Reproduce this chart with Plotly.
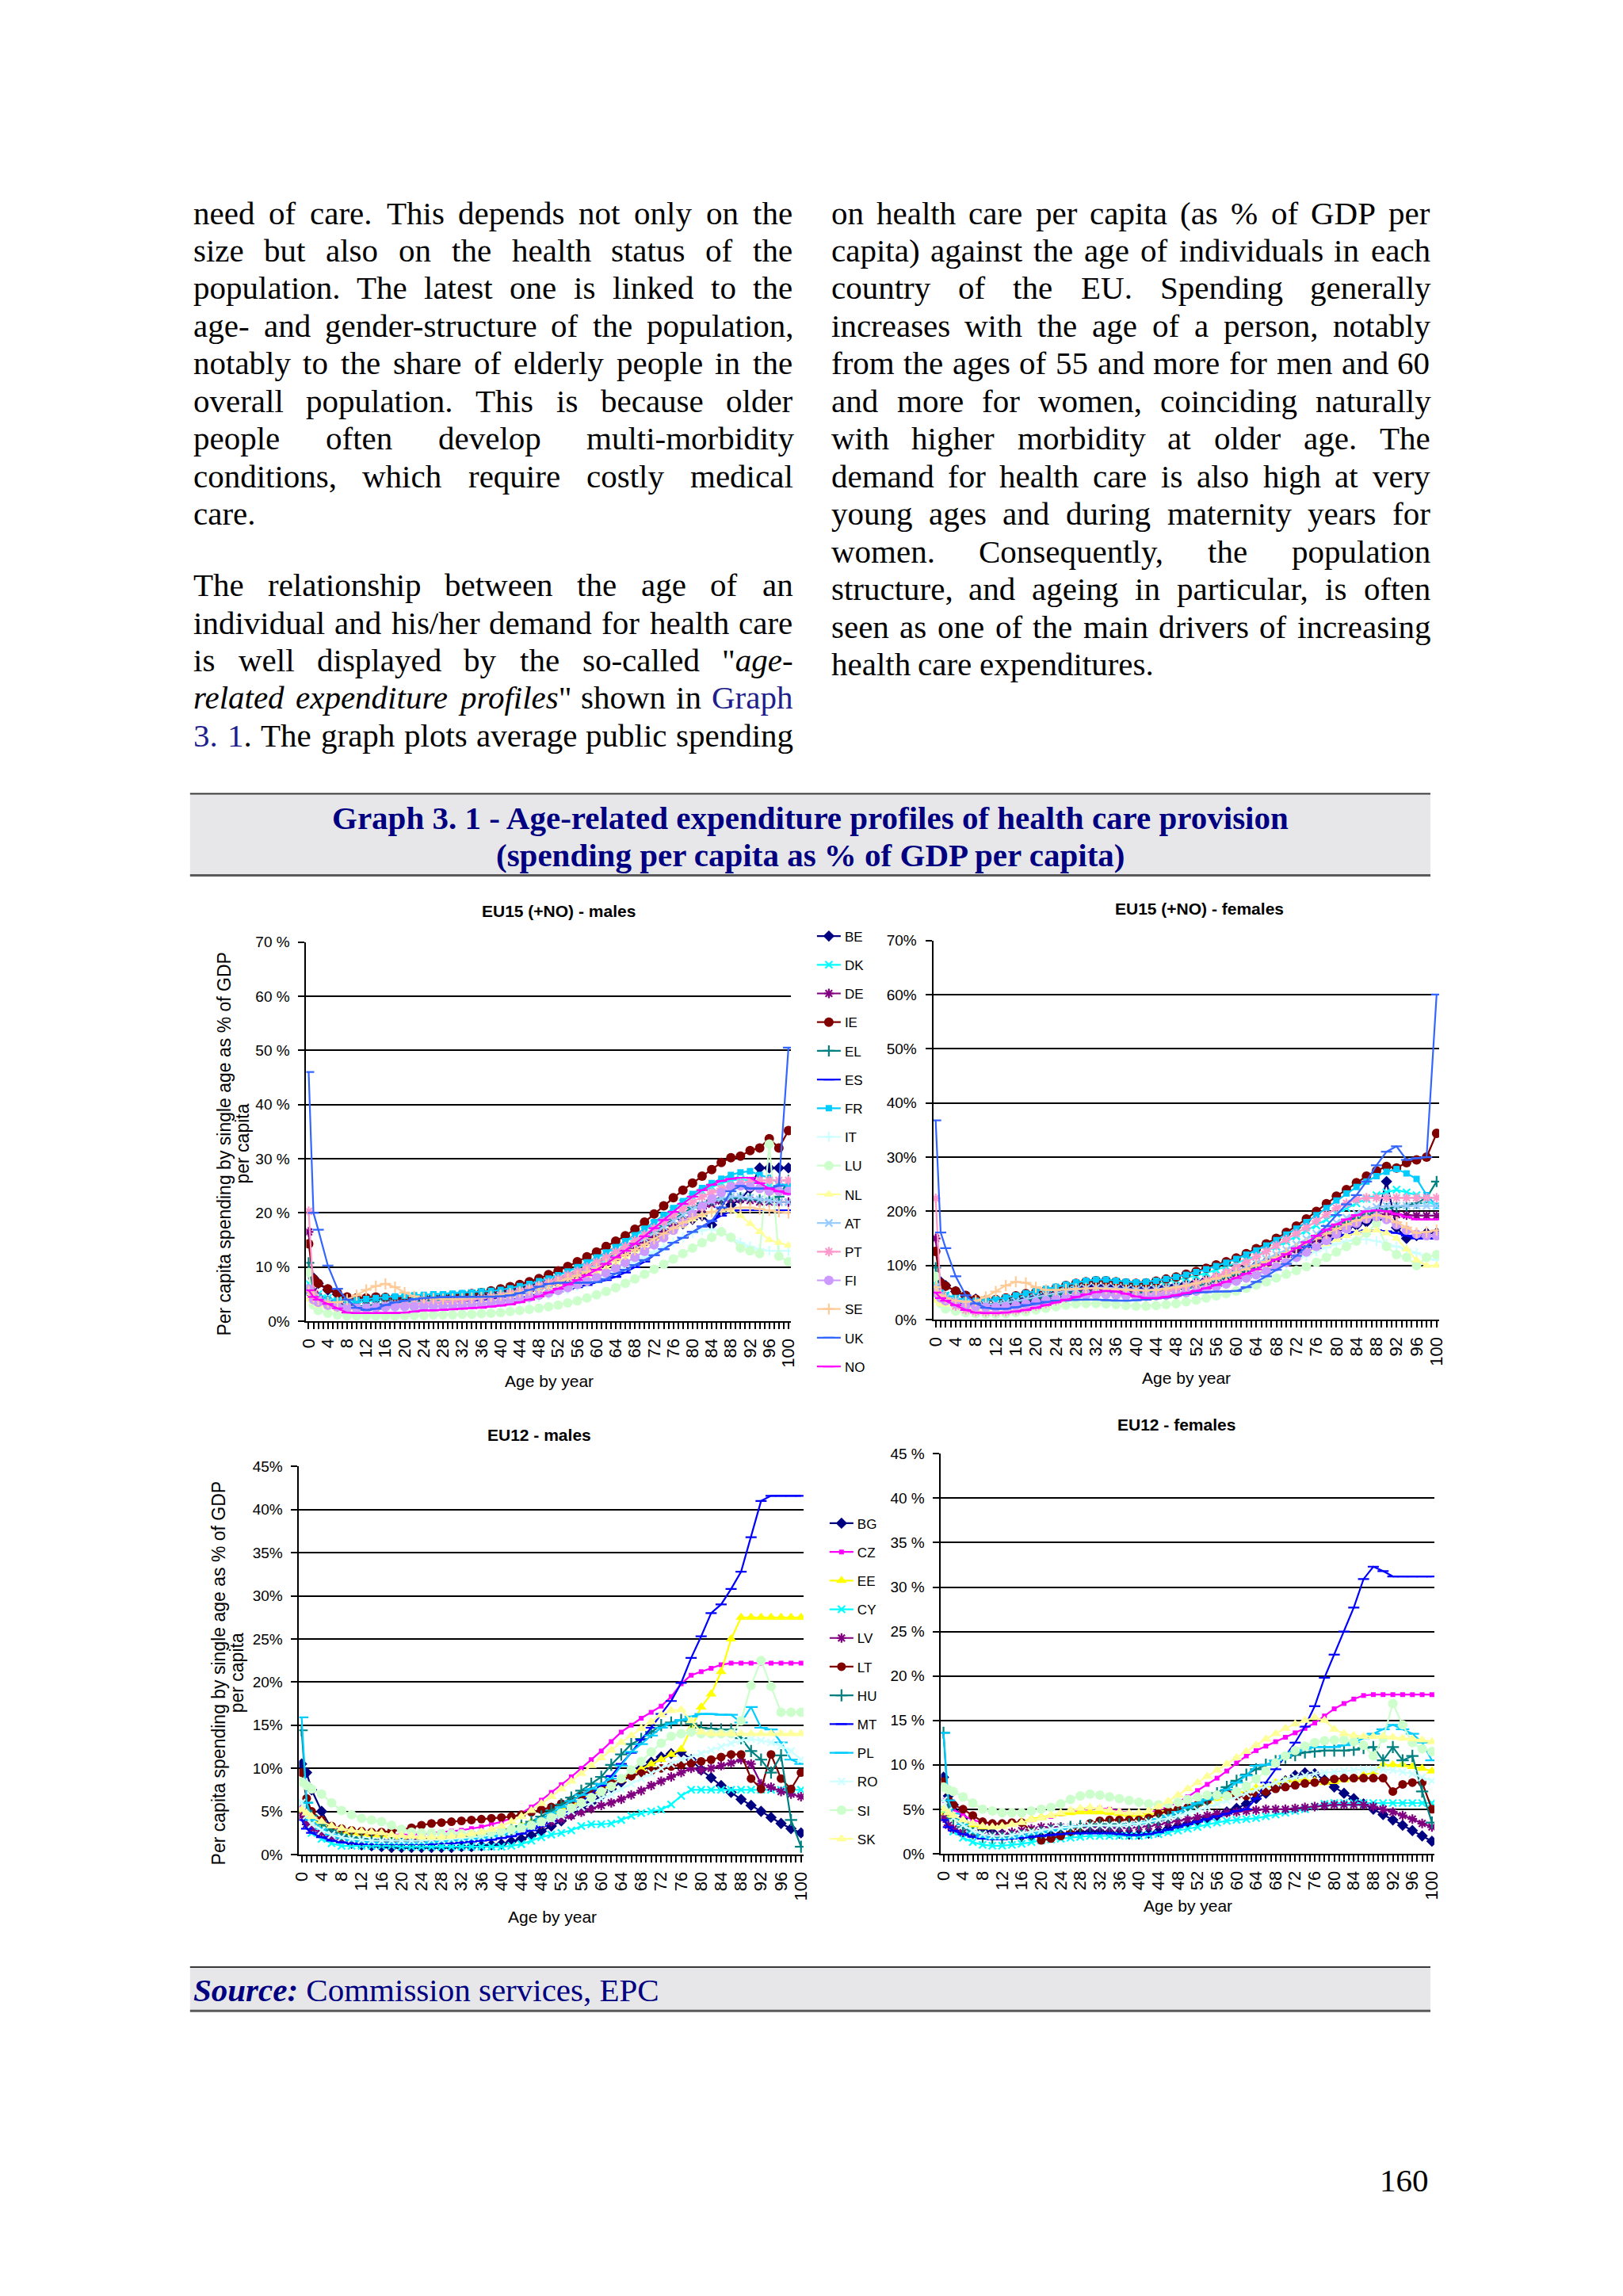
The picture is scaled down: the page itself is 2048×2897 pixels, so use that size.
import plotly.graph_objects as go

# ---------------------------------------------------------------- page geometry
OFF = 8                      # default body margin of the html page
W, H = 2016, 2850
# empirical mapping between requested page pixels and photographed pixels
SX, AX = 0.993, 7.7
SY, AY = 0.9915, 11.8


def fx(X):
    return ((X - AX) / SX - OFF) / W


def fy(Y):
    return 1 - ((Y - AY) / SY - OFF) / H


SERIF = "Liberation Serif, Times New Roman, serif"
SANS = "Liberation Sans, Arial, sans-serif"
NARROW = "Liberation Sans Narrow, Arial Narrow, Liberation Sans, Arial, sans-serif"
NAVY = "#000080"
LINK = "#1F1F8C"

# ---------------------------------------------------------------- data
AGES = [0, 1, 2] + list(range(4, 101, 2))
X_TICKS = list(range(101))
X_TICKTEXT = [str(a) if a % 4 == 0 else "" for a in X_TICKS]

EU15 = ["BE", "DK", "DE", "IE", "EL", "ES", "FR", "IT", "LU", "NL", "AT", "PT", "FI", "SE", "UK", "NO"]
EU12 = ["BG", "CZ", "EE", "CY", "LV", "LT", "HU", "MT", "PL", "RO", "SI", "SK"]

# EU15 (+NO) - males, % of GDP per capita, ages = AGES
M15_BE = [5.5, 8.0, 7.0, 5.8, 5.0, 4.3, 4.0, 4.0, 4.0, 4.0, 4.0, 4.0,
          4.0, 4.1, 4.2, 4.3, 4.4, 4.5, 4.6, 4.8, 5.0, 5.3,
          5.6, 6.0, 6.4, 6.8, 7.3, 7.8, 8.3, 8.9, 9.5, 10.2,
          11.0, 11.8, 12.6, 13.5, 14.4, 15.3, 16.2, 17.1, 18.0, 18.8,
          19.5, 17.8, 20.5, 21.5, 22.5, 24.5, 28.3, 28.3, 28.3, 28.3]
M15_DK = [7.0, 5.5, 5.0, 4.3, 3.8, 3.5, 3.5, 3.6, 3.8, 4.0, 4.2, 4.3,
          4.4, 4.5, 4.6, 4.7, 4.8, 5.0, 5.2, 5.4, 5.6, 5.9,
          6.2, 6.6, 7.0, 7.5, 8.0, 8.6, 9.2, 9.9, 10.7, 11.6,
          12.5, 13.5, 14.6, 15.7, 16.8, 18.0, 19.2, 20.5, 21.8, 23.0,
          24.0, 24.8, 25.5, 26.0, 26.2, 26.0, 25.5, 25.0, 24.5, 24.0]
M15_DE = [16.5, 5.5, 4.5, 3.8, 3.3, 3.0, 2.8, 2.8, 2.9, 3.0, 3.1, 3.1,
          3.2, 3.2, 3.3, 3.4, 3.5, 3.6, 3.8, 4.0, 4.2, 4.5,
          4.8, 5.2, 5.6, 6.1, 6.6, 7.2, 7.8, 8.5, 9.2, 10.0,
          10.8, 11.7, 12.6, 13.5, 14.5, 15.5, 16.5, 17.6, 18.7, 19.8,
          20.8, 21.6, 22.2, 22.5, 22.5, 22.3, 22.0, 22.0, 22.0, 22.0]
M15_IE = [14.3, 7.8, 7.0, 6.0, 5.2, 4.5, 4.3, 4.3, 4.5, 4.4, 4.3, 4.2,
          4.2, 4.3, 4.4, 4.5, 4.7, 4.9, 5.1, 5.3, 5.6, 6.0,
          6.4, 6.8, 7.3, 7.9, 8.6, 9.3, 10.1, 11.0, 11.9, 12.8,
          13.8, 14.8, 15.8, 17.0, 18.3, 19.8, 21.3, 22.8, 24.2, 25.5,
          26.8, 28.0, 29.3, 30.2, 30.5, 31.5, 32.0, 33.7, 32.0, 35.2]
M15_EL = [10.8, 4.5, 4.0, 3.5, 3.0, 2.8, 2.7, 2.8, 3.0, 3.2, 3.4, 3.5,
          3.6, 3.7, 3.8, 3.9, 4.0, 4.1, 4.3, 4.5, 4.7, 5.0,
          5.3, 5.7, 6.1, 6.6, 7.1, 7.7, 8.3, 9.0, 9.8, 10.6,
          11.5, 12.4, 13.4, 14.4, 15.5, 16.6, 17.7, 18.9, 20.0, 21.0,
          21.8, 22.3, 22.6, 22.8, 22.8, 22.6, 22.4, 22.5, 23.0, 26.0]
M15_ES = [5.0, 4.0, 3.5, 3.0, 2.6, 2.3, 2.2, 2.2, 2.4, 2.6, 2.8, 3.0,
          3.1, 3.2, 3.3, 3.4, 3.5, 3.6, 3.7, 3.8, 3.9, 4.0,
          4.2, 4.4, 4.6, 4.9, 5.2, 5.5, 5.9, 6.3, 6.7, 7.2,
          7.6, 8.2, 9.0, 10.0, 11.0, 12.2, 13.3, 14.5, 15.5, 16.5,
          17.5, 18.5, 19.5, 20.3, 20.5, 20.5, 20.5, 20.5, 20.5, 20.5]
M15_FR = [6.0, 5.0, 4.5, 4.0, 3.8, 3.8, 3.9, 4.1, 4.3, 4.5, 4.6, 4.7,
          4.8, 4.9, 5.0, 5.0, 5.1, 5.2, 5.3, 5.5, 5.6, 5.8,
          6.1, 6.5, 6.9, 7.4, 7.9, 8.5, 9.2, 10.0, 10.9, 11.8,
          12.7, 13.7, 14.8, 15.9, 17.1, 18.3, 19.6, 20.9, 22.2, 23.5,
          24.6, 25.5, 26.3, 27.0, 27.5, 27.7, 27.0, 26.5, 25.5, 25.0]
M15_IT = [5.0, 3.5, 3.0, 2.5, 2.2, 2.0, 1.9, 1.9, 2.0, 2.1, 2.2, 2.3,
          2.3, 2.4, 2.4, 2.5, 2.6, 2.7, 2.8, 2.9, 3.1, 3.3,
          3.5, 3.8, 4.1, 4.5, 4.9, 5.4, 5.9, 6.5, 7.1, 7.8,
          8.5, 9.3, 10.1, 11.0, 11.9, 12.8, 13.7, 14.6, 15.5, 16.3,
          16.8, 17.0, 16.5, 15.5, 14.5, 13.8, 13.3, 13.0, 13.0, 13.0]
M15_LU = [9.0, 3.0, 2.0, 1.5, 1.2, 1.0, 1.0, 1.0, 1.0, 1.0, 1.0, 1.1,
          1.1, 1.1, 1.2, 1.2, 1.2, 1.3, 1.3, 1.4, 1.5, 1.6,
          1.8, 2.0, 2.2, 2.4, 2.7, 3.0, 3.4, 3.8, 4.3, 4.9,
          5.5, 6.2, 7.0, 7.8, 8.7, 9.6, 10.5, 11.5, 12.5, 13.5,
          14.5, 15.5, 16.5, 15.5, 13.5, 13.0, 12.5, 32.7, 12.0, 11.0]
M15_NL = [4.0, 3.5, 3.0, 2.6, 2.3, 2.1, 2.0, 2.1, 2.3, 2.5, 2.7, 2.8,
          2.9, 3.0, 3.0, 3.1, 3.2, 3.3, 3.4, 3.6, 3.8, 4.0,
          4.3, 4.6, 5.0, 5.4, 5.9, 6.4, 7.0, 7.6, 8.3, 9.0,
          9.8, 10.7, 11.6, 12.5, 13.5, 14.5, 15.5, 16.6, 17.7, 18.8,
          19.6, 20.2, 20.5, 20.5, 19.5, 18.0, 16.5, 15.0, 14.5, 14.0]
M15_AT = [6.0, 4.5, 4.0, 3.5, 3.0, 2.7, 2.6, 2.6, 2.8, 3.0, 3.2, 3.3,
          3.4, 3.5, 3.5, 3.6, 3.7, 3.8, 4.0, 4.2, 4.4, 4.7,
          5.0, 5.4, 5.8, 6.3, 6.8, 7.4, 8.1, 8.8, 9.6, 10.4,
          11.3, 12.2, 13.2, 14.2, 15.3, 16.4, 17.5, 18.6, 19.7, 20.7,
          21.5, 22.2, 22.7, 23.0, 23.0, 22.8, 22.5, 22.3, 22.0, 22.0]
M15_PT = [20.3, 5.0, 3.8, 3.0, 2.6, 2.4, 2.3, 2.4, 2.6, 2.8, 3.0, 3.1,
          3.2, 3.3, 3.4, 3.5, 3.6, 3.8, 4.0, 4.2, 4.5, 4.8,
          5.2, 5.6, 6.1, 6.6, 7.2, 7.8, 8.5, 9.2, 10.0, 10.9,
          11.8, 12.8, 13.8, 14.9, 16.0, 17.2, 18.4, 19.6, 20.8, 22.0,
          23.0, 23.8, 24.5, 25.0, 25.5, 25.8, 26.0, 26.0, 26.0, 26.0]
M15_FI = [6.0, 4.0, 3.5, 3.0, 2.7, 2.5, 2.4, 2.4, 2.5, 2.6, 2.7, 2.7,
          2.7, 2.7, 2.8, 2.8, 2.9, 3.0, 3.1, 3.2, 3.4, 3.6,
          3.8, 4.1, 4.4, 4.8, 5.2, 5.7, 6.2, 6.8, 7.4, 8.1,
          8.9, 9.8, 10.8, 11.8, 12.9, 14.1, 15.4, 16.8, 18.2, 19.7,
          21.2, 22.6, 23.8, 24.8, 25.0, 24.8, 24.5, 24.0, 24.0, 24.0]
M15_SE = [5.5, 4.5, 4.0, 3.5, 3.5, 4.0, 4.8, 5.8, 6.5, 6.9, 6.3, 5.3,
          4.6, 4.3, 4.2, 4.1, 4.1, 4.2, 4.3, 4.4, 4.6, 4.8,
          5.1, 5.4, 5.8, 6.2, 6.7, 7.2, 7.8, 8.4, 9.1, 9.8,
          10.6, 11.4, 12.3, 13.2, 14.2, 15.2, 16.2, 17.2, 18.2, 19.0,
          19.7, 20.2, 20.5, 20.8, 21.0, 21.0, 20.7, 20.5, 20.2, 20.0]
M15_UK = [46.0, 20.0, 16.9, 10.3, 6.0, 4.0, 2.5, 2.1, 2.3, 3.0, 3.5, 3.8,
          4.1, 4.3, 4.4, 4.5, 4.5, 4.5, 4.5, 4.5, 4.5, 4.6,
          4.8, 5.2, 5.8, 6.4, 6.9, 7.1, 7.1, 7.1, 7.1, 7.2,
          7.8, 8.8, 9.5, 10.4, 11.3, 12.2, 13.3, 14.5, 15.4, 16.5,
          17.5, 18.5, 21.0, 24.0, 25.0, 24.5, 24.5, 24.5, 25.0, 50.5]
M15_NO = [5.7, 4.5, 4.0, 3.2, 2.4, 1.6, 1.5, 1.5, 1.5, 1.5, 1.5, 1.6,
          1.8, 2.0, 2.0, 2.1, 2.2, 2.3, 2.4, 2.5, 2.7, 2.9,
          3.1, 3.5, 4.0, 4.6, 5.3, 6.0, 6.8, 7.6, 8.5, 9.5,
          10.6, 11.8, 13.0, 14.3, 15.7, 17.2, 18.7, 20.2, 21.7, 23.0,
          24.2, 25.2, 25.9, 26.3, 26.5, 26.5, 25.5, 24.5, 24.0, 23.5]

# EU15 (+NO) - females
F15_BE = [5.0, 7.0, 6.3, 5.2, 4.3, 3.8, 3.6, 3.6, 3.7, 3.9, 4.1, 4.3,
          4.6, 5.0, 5.4, 5.8, 6.1, 6.3, 6.3, 6.2, 6.0, 5.9,
          5.9, 6.0, 6.2, 6.4, 6.7, 7.0, 7.4, 7.8, 8.3, 8.8,
          9.4, 10.0, 10.7, 11.4, 12.1, 12.9, 13.7, 14.5, 15.3, 16.0,
          16.8, 17.4, 18.0, 18.5, 25.5, 17.0, 15.0, 15.5, 16.0, 16.0]
F15_DK = [6.5, 5.0, 4.5, 4.0, 3.6, 3.4, 3.4, 3.5, 3.7, 4.0, 4.3, 4.6,
          5.0, 5.5, 6.0, 6.5, 6.9, 7.2, 7.2, 7.0, 6.7, 6.5,
          6.5, 6.7, 7.0, 7.3, 7.7, 8.1, 8.6, 9.2, 9.8, 10.4,
          11.1, 11.8, 12.6, 13.5, 14.4, 15.4, 16.4, 17.4, 18.5, 19.6,
          20.6, 21.5, 22.3, 23.0, 23.5, 24.0, 23.5, 23.0, 22.0, 21.0]
F15_DE = [15.0, 5.0, 4.0, 3.4, 2.9, 2.6, 2.5, 2.5, 2.7, 3.0, 3.4, 3.8,
          4.2, 4.6, 5.0, 5.3, 5.5, 5.6, 5.6, 5.5, 5.3, 5.2,
          5.2, 5.3, 5.5, 5.8, 6.1, 6.5, 6.9, 7.4, 7.9, 8.5,
          9.1, 9.8, 10.5, 11.3, 12.1, 13.0, 13.9, 14.9, 15.9, 16.9,
          17.8, 18.6, 19.2, 19.5, 19.5, 19.4, 19.3, 19.2, 19.2, 19.2]
F15_IE = [12.6, 6.8, 6.2, 5.3, 4.5, 3.8, 3.6, 3.7, 4.0, 4.4, 4.8, 5.1,
          5.4, 5.8, 6.3, 6.7, 7.0, 7.2, 7.2, 7.0, 6.8, 6.7,
          6.8, 7.1, 7.5, 7.9, 8.4, 8.9, 9.5, 10.1, 10.7, 11.4,
          12.2, 13.1, 14.0, 15.0, 16.1, 17.3, 18.6, 20.0, 21.4, 22.8,
          24.0, 25.3, 26.5, 27.5, 28.3, 28.0, 29.0, 29.5, 30.0, 34.4]
F15_EL = [9.6, 4.5, 4.0, 3.4, 3.0, 2.8, 2.8, 2.9, 3.1, 3.4, 3.7, 4.0,
          4.3, 4.6, 4.9, 5.1, 5.2, 5.2, 5.1, 5.0, 4.9, 4.9,
          5.0, 5.1, 5.3, 5.6, 5.9, 6.3, 6.7, 7.2, 7.8, 8.4,
          9.0, 9.7, 10.5, 11.3, 12.2, 13.1, 14.1, 15.1, 16.1, 17.1,
          18.0, 18.8, 19.5, 20.0, 20.5, 20.8, 21.0, 21.5, 22.5, 25.5]
F15_ES = [5.0, 4.0, 3.5, 3.0, 2.6, 2.3, 2.2, 2.2, 2.4, 2.7, 3.0, 3.3,
          3.6, 3.9, 4.2, 4.4, 4.6, 4.7, 4.7, 4.6, 4.4, 4.3,
          4.3, 4.4, 4.6, 4.8, 5.1, 5.4, 5.8, 6.2, 6.7, 7.2,
          7.8, 8.4, 9.1, 9.8, 10.6, 11.4, 12.3, 13.2, 14.1, 15.0,
          15.7, 16.2, 16.5, 16.5, 16.3, 16.0, 15.5, 15.0, 15.0, 15.0]
F15_FR = [6.0, 5.0, 4.5, 4.0, 3.6, 3.5, 3.6, 3.8, 4.1, 4.5, 4.9, 5.3,
          5.7, 6.1, 6.5, 6.9, 7.2, 7.4, 7.4, 7.2, 7.0, 6.9,
          7.0, 7.2, 7.5, 7.9, 8.3, 8.8, 9.3, 9.9, 10.5, 11.2,
          12.0, 12.8, 13.7, 14.7, 15.7, 16.8, 18.0, 19.3, 20.6, 22.0,
          23.3, 24.5, 25.5, 26.5, 27.3, 27.8, 27.0, 26.0, 23.0, 21.0]
F15_IT = [5.0, 3.5, 3.0, 2.5, 2.2, 2.0, 1.9, 2.0, 2.2, 2.5, 2.8, 3.1,
          3.4, 3.7, 4.0, 4.2, 4.4, 4.5, 4.5, 4.4, 4.3, 4.2,
          4.2, 4.3, 4.5, 4.7, 5.0, 5.3, 5.7, 6.1, 6.6, 7.1,
          7.6, 8.2, 8.8, 9.5, 10.2, 11.0, 11.8, 12.6, 13.3, 14.0,
          14.5, 14.8, 14.8, 14.5, 14.0, 13.5, 13.0, 12.3, 11.5, 11.0]
F15_LU = [8.0, 3.0, 2.0, 1.6, 1.3, 1.1, 1.0, 1.0, 1.1, 1.3, 1.5, 1.8,
          2.1, 2.4, 2.7, 2.9, 3.0, 3.0, 2.9, 2.8, 2.6, 2.5,
          2.5, 2.6, 2.8, 3.0, 3.3, 3.6, 4.0, 4.4, 4.8, 5.3,
          5.8, 6.4, 7.0, 7.7, 8.4, 9.1, 9.8, 10.6, 11.5, 12.5,
          13.5, 14.5, 16.0, 17.8, 13.5, 12.0, 11.5, 10.0, 11.5, 12.0]
F15_NL = [3.5, 3.0, 2.8, 2.5, 2.2, 2.0, 2.0, 2.1, 2.3, 2.6, 2.9, 3.2,
          3.5, 3.8, 4.1, 4.3, 4.5, 4.6, 4.6, 4.5, 4.4, 4.3,
          4.3, 4.4, 4.6, 4.9, 5.2, 5.6, 6.0, 6.5, 7.0, 7.5,
          8.1, 8.7, 9.4, 10.1, 10.8, 11.6, 12.4, 13.2, 14.0, 14.8,
          15.5, 16.0, 16.5, 16.5, 16.0, 15.0, 13.0, 11.0, 10.0, 10.0]
F15_AT = [6.0, 4.5, 4.0, 3.5, 3.1, 2.9, 2.8, 2.9, 3.1, 3.4, 3.8, 4.2,
          4.6, 5.0, 5.3, 5.6, 5.8, 5.9, 5.9, 5.8, 5.6, 5.5,
          5.5, 5.6, 5.8, 6.1, 6.4, 6.8, 7.3, 7.8, 8.4, 9.0,
          9.7, 10.4, 11.2, 12.0, 12.9, 13.9, 14.9, 15.9, 16.9, 17.9,
          18.8, 19.6, 20.3, 20.8, 21.0, 21.0, 21.0, 21.0, 21.0, 21.0]
F15_PT = [22.4, 4.5, 3.5, 2.5, 1.8, 1.5, 1.4, 1.4, 1.5, 1.7, 2.0, 2.5,
          3.0, 3.5, 4.0, 4.4, 4.7, 4.8, 4.8, 4.7, 4.6, 4.6,
          4.7, 4.9, 5.2, 5.6, 6.1, 6.7, 7.3, 8.0, 8.8, 9.7,
          10.6, 11.6, 12.6, 13.7, 14.8, 15.9, 17.0, 18.2, 19.4, 20.6,
          21.5, 22.2, 22.5, 22.5, 22.5, 22.5, 22.5, 22.5, 22.5, 22.5]
F15_FI = [5.0, 4.0, 3.5, 3.0, 2.6, 2.4, 2.3, 2.3, 2.4, 2.6, 2.9, 3.2,
          3.5, 3.8, 4.1, 4.3, 4.5, 4.6, 4.6, 4.5, 4.4, 4.3,
          4.3, 4.4, 4.5, 4.7, 5.0, 5.3, 5.7, 6.1, 6.6, 7.1,
          7.7, 8.3, 9.0, 9.8, 10.6, 11.5, 12.5, 13.5, 14.6, 15.8,
          16.8, 17.8, 18.6, 19.0, 18.5, 17.5, 16.5, 15.8, 15.5, 15.5]
F15_SE = [6.0, 4.5, 4.0, 3.5, 3.3, 3.5, 4.2, 5.2, 6.3, 7.0, 6.8, 6.0,
          5.5, 5.5, 5.6, 5.7, 5.8, 5.8, 5.7, 5.6, 5.5, 5.4,
          5.4, 5.5, 5.7, 6.0, 6.3, 6.7, 7.1, 7.6, 8.1, 8.7,
          9.3, 10.0, 10.7, 11.5, 12.3, 13.2, 14.1, 15.0, 15.9, 16.8,
          17.6, 18.3, 18.9, 19.3, 19.0, 18.0, 17.0, 16.0, 16.2, 16.5]
F15_UK = [36.8, 16.1, 13.2, 8.0, 4.5, 3.0, 2.2, 2.0, 2.0, 2.3, 2.7, 3.0,
          3.3, 3.5, 3.6, 3.7, 3.7, 3.7, 3.6, 3.5, 3.5, 3.6,
          3.7, 3.9, 4.1, 4.4, 4.7, 5.0, 5.1, 5.2, 5.2, 5.3,
          6.0, 7.0, 8.0, 9.2, 10.3, 11.8, 13.5, 15.5, 17.3, 19.3,
          21.3, 23.0, 25.5, 28.5, 31.0, 32.0, 29.5, 29.8, 30.0, 60.0]
F15_NO = [5.0, 4.0, 3.5, 2.7, 1.8, 1.3, 1.2, 1.2, 1.3, 1.5, 1.8, 2.2,
          2.7, 3.2, 3.7, 4.2, 4.7, 5.1, 5.3, 5.2, 4.8, 4.3,
          4.0, 4.0, 4.2, 4.5, 4.9, 5.3, 5.8, 6.4, 7.0, 7.7,
          8.5, 9.3, 10.2, 11.1, 12.1, 13.2, 14.3, 15.5, 16.6, 17.6,
          18.5, 19.3, 20.0, 20.2, 20.0, 19.5, 19.0, 18.5, 18.5, 18.5]

# EU12 - males
M12_BG = [10.5, 9.5, 7.5, 5.0, 3.0, 2.0, 1.3, 1.1, 1.0, 0.9, 0.8, 0.8,
          0.8, 0.8, 0.8, 0.8, 0.8, 0.9, 0.9, 1.0, 1.1, 1.2,
          1.5, 1.8, 2.2, 2.7, 3.3, 3.9, 4.6, 5.3, 6.0, 6.8,
          7.6, 8.4, 9.2, 10.0, 10.7, 11.3, 11.7, 11.9, 11.0, 9.8,
          8.9, 8.0, 7.2, 6.4, 5.7, 5.0, 4.3, 3.6, 3.0, 2.5]
M12_CZ = [5.5, 5.0, 4.5, 3.8, 3.2, 2.8, 2.5, 2.4, 2.3, 2.3, 2.3, 2.3,
          2.3, 2.4, 2.5, 2.6, 2.7, 2.8, 3.0, 3.2, 3.5, 3.8,
          4.2, 4.8, 5.5, 6.3, 7.2, 8.1, 9.0, 10.0, 11.0, 12.0,
          13.1, 14.2, 15.0, 15.8, 16.5, 17.2, 18.3, 19.8, 20.8, 21.2,
          21.6, 22.0, 22.2, 22.2, 22.2, 22.2, 22.2, 22.2, 22.2, 22.2]
M12_EE = [5.0, 4.5, 4.0, 3.5, 3.0, 2.7, 2.5, 2.4, 2.3, 2.2, 2.1, 2.0,
          2.0, 2.0, 2.0, 2.0, 2.1, 2.2, 2.3, 2.4, 2.6, 2.8,
          3.1, 3.4, 3.8, 4.2, 4.7, 5.2, 5.7, 6.3, 6.9, 7.5,
          8.1, 8.7, 9.3, 9.9, 10.5, 11.0, 11.6, 12.2, 14.6, 17.1,
          18.6, 21.2, 25.0, 27.5, 27.5, 27.5, 27.5, 27.5, 27.5, 27.5]
M12_CY = [6.0, 3.5, 2.5, 1.8, 1.3, 1.0, 1.0, 1.0, 1.0, 1.0, 1.0, 0.9,
          0.9, 0.9, 0.9, 0.9, 0.9, 0.9, 0.9, 0.9, 0.9, 0.9,
          1.0, 1.2, 1.6, 2.0, 2.3, 2.5, 2.8, 3.3, 3.5, 3.5,
          3.6, 4.0, 4.5, 4.8, 5.0, 5.2, 5.8, 6.8, 7.5, 7.5,
          7.5, 7.5, 7.5, 7.5, 7.5, 7.5, 7.5, 7.5, 7.5, 7.5]
M12_LV = [4.5, 3.5, 3.0, 2.5, 2.0, 1.8, 1.6, 1.5, 1.5, 1.5, 1.5, 1.6,
          1.7, 1.8, 1.9, 2.0, 2.1, 2.2, 2.3, 2.4, 2.5, 2.6,
          2.8, 3.0, 3.2, 3.5, 3.8, 4.1, 4.5, 4.9, 5.3, 5.7,
          6.0, 6.4, 6.9, 7.4, 8.0, 8.5, 9.0, 9.5, 10.0, 9.8,
          10.0, 10.3, 10.6, 11.0, 10.5, 8.2, 7.8, 7.3, 7.0, 6.7]
M12_LT = [9.5, 6.5, 5.0, 4.0, 3.3, 3.0, 2.8, 2.7, 2.6, 2.6, 2.7, 2.9,
          3.1, 3.4, 3.6, 3.7, 3.8, 3.9, 4.0, 4.1, 4.2, 4.3,
          4.4, 4.6, 4.9, 5.2, 5.5, 5.9, 6.3, 6.8, 7.3, 7.8,
          8.3, 8.7, 9.1, 9.4, 9.7, 10.0, 10.2, 10.4, 10.6, 10.8,
          11.0, 11.3, 11.6, 11.6, 8.8, 7.6, 11.6, 8.8, 7.6, 9.5]
M12_HU = [14.4, 6.0, 4.5, 3.5, 2.8, 2.3, 2.0, 1.8, 1.7, 1.6, 1.6, 1.6,
          1.6, 1.6, 1.7, 1.8, 1.9, 2.0, 2.1, 2.2, 2.4, 2.6,
          2.9, 3.3, 3.8, 4.4, 5.1, 5.8, 6.6, 7.4, 8.2, 9.0,
          10.4, 11.6, 12.8, 13.4, 14.2, 15.0, 15.3, 15.6, 15.2, 14.7,
          14.6, 14.5, 14.5, 13.5, 12.0, 11.0, 9.5, 11.5, 4.0, 0.9]
M12_MT = [4.0, 3.0, 2.5, 2.0, 1.6, 1.4, 1.3, 1.2, 1.2, 1.2, 1.2, 1.2,
          1.2, 1.2, 1.2, 1.3, 1.3, 1.4, 1.5, 1.6, 1.7, 1.9,
          2.1, 2.4, 2.8, 3.3, 3.9, 4.6, 5.3, 6.1, 7.0, 8.0,
          9.1, 10.5, 11.8, 13.3, 14.7, 16.3, 17.8, 19.9, 22.8, 25.3,
          28.0, 29.0, 30.8, 32.8, 36.8, 41.0, 41.6, 41.6, 41.6, 41.6]
M12_PL = [15.9, 6.0, 4.0, 3.0, 2.3, 1.9, 1.6, 1.5, 1.4, 1.3, 1.3, 1.3,
          1.3, 1.3, 1.4, 1.5, 1.6, 1.7, 1.8, 1.9, 2.1, 2.3,
          2.6, 3.0, 3.5, 4.1, 4.8, 5.5, 6.2, 6.9, 7.6, 8.2,
          8.8, 10.3, 11.9, 12.8, 13.8, 14.7, 15.2, 15.6, 16.0, 16.3,
          16.3, 16.2, 16.2, 15.3, 17.1, 14.7, 14.5, 13.0, 11.0, 10.5]
M12_RO = [6.0, 4.5, 3.5, 2.8, 2.3, 2.0, 1.8, 1.7, 1.6, 1.6, 1.6, 1.6,
          1.6, 1.6, 1.7, 1.7, 1.8, 1.9, 2.0, 2.1, 2.3, 2.5,
          2.7, 3.0, 3.3, 3.7, 4.1, 4.5, 5.0, 5.5, 6.0, 6.5,
          7.0, 7.6, 8.2, 8.8, 9.4, 10.0, 10.5, 11.0, 11.3, 11.7,
          12.1, 12.5, 12.9, 13.2, 13.4, 13.2, 13.0, 12.6, 12.0, 11.0]
M12_SI = [8.4, 8.0, 7.6, 7.0, 6.0, 5.1, 4.6, 4.2, 4.0, 3.8, 3.4, 2.9,
          2.6, 2.5, 2.5, 2.4, 2.4, 2.4, 2.4, 2.5, 2.6, 2.7,
          2.9, 3.1, 3.4, 3.8, 4.3, 4.8, 5.4, 6.0, 6.6, 7.3,
          7.9, 8.8, 9.8, 10.8, 11.9, 12.9, 13.7, 14.0, 14.2, 14.0,
          14.0, 14.0, 14.0, 15.5, 19.6, 22.5, 19.5, 16.5, 16.5, 16.5]
M12_SK = [5.2, 4.8, 4.4, 3.8, 3.3, 3.0, 2.8, 2.7, 2.6, 2.5, 2.3, 2.2,
          2.1, 2.0, 2.0, 2.0, 2.1, 2.2, 2.4, 2.6, 2.9, 3.3,
          3.8, 4.4, 5.1, 5.9, 6.7, 7.6, 8.5, 9.4, 10.3, 11.2,
          12.1, 13.0, 13.8, 14.6, 15.4, 16.2, 16.7, 16.8, 15.5, 14.2,
          14.0, 14.0, 14.0, 14.0, 14.0, 14.0, 14.0, 14.0, 14.0, 14.0]

# EU12 - females
F12_BG = [8.6, 6.5, 5.5, 4.0, 3.2, 2.7, 2.4, 2.2, 2.1, 2.0, 2.0, 2.0,
          2.1, 2.2, 2.3, 2.4, 2.5, 2.5, 2.4, 2.3, 2.2, 2.2,
          2.3, 2.5, 2.8, 3.1, 3.4, 3.7, 4.0, 4.3, 4.7, 5.1,
          5.6, 6.2, 6.8, 7.5, 8.2, 8.8, 9.1, 9.0, 8.3, 7.5,
          6.8, 6.2, 5.6, 5.0, 4.4, 3.8, 3.2, 2.6, 2.0, 1.4]
F12_CZ = [6.0, 5.5, 5.0, 4.3, 3.8, 3.5, 3.4, 3.4, 3.5, 3.6, 3.8, 4.0,
          4.2, 4.5, 4.7, 4.9, 5.0, 5.1, 5.0, 4.8, 4.6, 4.5,
          4.6, 4.9, 5.3, 5.8, 6.4, 7.1, 7.8, 8.5, 9.3, 10.2,
          11.0, 11.6, 12.1, 12.6, 13.1, 13.6, 14.1, 14.7, 15.5, 16.3,
          16.9, 17.4, 17.8, 17.9, 17.9, 17.9, 17.9, 17.9, 17.9, 17.9]
F12_EE = [4.5, 4.2, 3.9, 3.5, 3.2, 3.0, 3.0, 3.1, 3.3, 3.6, 3.9, 4.1,
          4.3, 4.5, 4.6, 4.7, 4.7, 4.7, 4.6, 4.5, 4.4, 4.4,
          4.5, 4.7, 4.9, 5.1, 5.3, 5.6, 5.9, 6.2, 6.5, 6.8,
          7.1, 7.4, 7.7, 8.0, 8.2, 8.3, 8.3, 8.2, 8.0, 8.1,
          8.3, 8.5, 8.8, 9.2, 10.0, 10.0, 10.0, 9.8, 9.6, 9.3]
F12_CY = [5.0, 3.5, 2.5, 1.8, 1.3, 1.0, 0.9, 0.9, 1.0, 1.1, 1.3, 1.5,
          1.6, 1.7, 1.8, 1.9, 2.0, 2.0, 2.0, 2.0, 2.0, 2.0,
          2.1, 2.2, 2.4, 2.6, 2.8, 3.0, 3.3, 3.5, 3.7, 3.8,
          3.9, 4.0, 4.2, 4.4, 4.6, 4.8, 5.0, 5.3, 5.6, 5.7,
          5.7, 5.7, 5.7, 5.7, 5.7, 5.7, 5.7, 5.7, 5.7, 5.7]
F12_LV = [4.0, 3.2, 2.8, 2.4, 2.2, 2.1, 2.1, 2.2, 2.4, 2.6, 2.8, 3.0,
          3.0, 3.0, 3.0, 3.0, 3.0, 3.0, 2.9, 2.9, 2.9, 3.0,
          3.1, 3.3, 3.5, 3.7, 3.9, 4.1, 4.3, 4.5, 4.6, 4.7,
          4.8, 4.9, 5.0, 5.0, 5.0, 5.1, 5.2, 5.3, 5.4, 5.5,
          5.5, 5.5, 5.5, 5.3, 5.0, 4.7, 4.3, 3.9, 3.4, 3.0]
F12_LT = [8.1, 6.0, 5.5, 5.0, 4.3, 3.6, 3.4, 3.4, 3.5, 3.5, 2.5, 1.5,
          1.7, 2.0, 2.5, 3.0, 3.4, 3.7, 3.8, 3.8, 3.8, 3.8,
          4.0, 4.5, 4.8, 5.0, 5.2, 5.5, 6.0, 6.6, 7.0, 6.5,
          6.5, 6.8, 7.0, 7.3, 7.5, 7.7, 7.9, 8.0, 8.2, 8.4,
          8.5, 8.5, 8.5, 8.5, 8.5, 7.0, 7.8, 8.0, 8.0, 5.0]
F12_HU = [13.6, 5.0, 4.0, 3.0, 2.3, 1.9, 1.8, 1.8, 1.9, 2.0, 2.2, 2.4,
          2.6, 2.8, 3.0, 3.1, 3.2, 3.3, 3.3, 3.3, 3.3, 3.4,
          3.5, 3.8, 4.1, 4.5, 5.0, 5.5, 6.1, 6.8, 7.5, 8.2,
          8.9, 9.5, 10.0, 10.4, 10.8, 11.1, 11.4, 11.5, 11.6, 11.6,
          11.6, 11.7, 11.9, 12.0, 10.5, 12.0, 10.5, 11.0, 7.0, 3.5]
F12_MT = [3.8, 3.0, 2.6, 2.2, 1.9, 1.7, 1.6, 1.6, 1.7, 1.8, 1.9, 2.0,
          2.1, 2.2, 2.3, 2.3, 2.3, 2.3, 2.3, 2.2, 2.1, 2.1,
          2.2, 2.4, 2.7, 3.0, 3.3, 3.6, 3.9, 4.2, 4.5, 4.8,
          5.0, 6.2, 8.0, 9.5, 11.0, 12.5, 14.3, 16.6, 19.8, 22.4,
          25.0, 27.7, 30.9, 32.3, 31.8, 31.2, 31.2, 31.2, 31.2, 31.2]
F12_PL = [13.6, 6.0, 4.5, 3.3, 2.4, 1.9, 1.7, 1.7, 1.8, 2.0, 2.2, 2.4,
          2.6, 2.8, 3.0, 3.1, 3.2, 3.2, 3.2, 3.2, 3.3, 3.4,
          3.6, 3.9, 4.3, 4.7, 5.2, 5.7, 6.1, 6.5, 7.2, 8.0,
          8.8, 9.9, 10.0, 10.5, 11.0, 11.5, 11.8, 12.0, 12.0, 12.0,
          12.2, 12.5, 13.0, 13.5, 14.0, 14.5, 14.0, 13.5, 12.5, 10.5]
F12_RO = [6.0, 4.8, 4.0, 3.2, 2.6, 2.2, 2.0, 2.0, 2.1, 2.3, 2.5, 2.6,
          2.8, 2.9, 3.0, 3.1, 3.2, 3.2, 3.2, 3.2, 3.3, 3.4,
          3.6, 3.8, 4.0, 4.3, 4.6, 4.9, 5.2, 5.6, 6.0, 6.4,
          6.8, 7.2, 7.6, 8.0, 8.3, 8.6, 8.8, 9.0, 9.1, 9.2,
          9.3, 9.4, 9.5, 9.5, 9.5, 9.4, 9.2, 9.0, 8.6, 8.2]
F12_SI = [7.5, 7.2, 7.0, 6.4, 5.7, 5.0, 4.8, 4.6, 4.6, 4.6, 4.8, 5.0,
          5.2, 5.6, 6.1, 6.5, 6.7, 6.6, 6.4, 6.2, 6.0, 5.8,
          5.6, 5.5, 5.6, 5.8, 6.1, 6.4, 6.6, 6.6, 6.5, 7.0,
          7.6, 8.4, 9.3, 10.2, 11.0, 11.6, 12.1, 12.5, 12.7, 12.8,
          12.8, 12.6, 12.2, 11.0, 13.0, 16.9, 14.5, 12.5, 11.8, 11.5]
F12_SK = [5.0, 4.6, 4.3, 3.8, 3.4, 3.1, 3.0, 3.1, 3.3, 3.5, 3.8, 4.0,
          4.3, 4.6, 4.9, 5.1, 5.2, 5.1, 4.9, 4.7, 4.6, 4.6,
          4.8, 5.3, 5.9, 6.6, 7.3, 8.0, 8.7, 9.4, 10.1, 10.8,
          11.5, 12.2, 12.9, 13.5, 14.1, 14.6, 15.0, 15.3, 15.0, 14.0,
          13.5, 13.3, 13.2, 13.2, 13.2, 13.1, 13.0, 12.9, 12.8, 12.6]

M15 = [M15_BE, M15_DK, M15_DE, M15_IE, M15_EL, M15_ES, M15_FR, M15_IT,
       M15_LU, M15_NL, M15_AT, M15_PT, M15_FI, M15_SE, M15_UK, M15_NO]
F15 = [F15_BE, F15_DK, F15_DE, F15_IE, F15_EL, F15_ES, F15_FR, F15_IT,
       F15_LU, F15_NL, F15_AT, F15_PT, F15_FI, F15_SE, F15_UK, F15_NO]
M12 = [M12_BG, M12_CZ, M12_EE, M12_CY, M12_LV, M12_LT, M12_HU, M12_MT,
       M12_PL, M12_RO, M12_SI, M12_SK]
F12 = [F12_BG, F12_CZ, F12_EE, F12_CY, F12_LV, F12_LT, F12_HU, F12_MT,
       F12_PL, F12_RO, F12_SI, F12_SK]
for grp in (M15, F15, M12, F12):
    for s in grp:
        assert len(s) == len(AGES), len(s)

# ---------------------------------------------------------------- styles
STYLE = {
    "BE": ("#000080", "diamond", 11), "DK": ("#00FFFF", "x-thin", 9),
    "DE": ("#800080", "asterisk", 10), "IE": ("#800000", "circle", 12),
    "EL": ("#008080", "cross-thin", 10), "ES": ("#0000FF", "line-ew", 10),
    "FR": ("#00CCFF", "square", 8), "IT": ("#CCFFFF", "cross-thin", 9),
    "LU": ("#CCFFCC", "circle", 12), "NL": ("#FFFF99", "triangle-up", 11),
    "AT": ("#99CCFF", "x-thin", 9), "PT": ("#FF99CC", "asterisk", 10),
    "FI": ("#CC99FF", "circle", 12), "SE": ("#FFCC99", "cross-thin", 10),
    "UK": ("#3366FF", "line-ew", 10), "NO": ("#FF00FF", "line-ew", 10),
    "BG": ("#000080", "diamond", 11), "CZ": ("#FF00FF", "square", 6),
    "EE": ("#FFFF00", "triangle-up", 12), "CY": ("#00FFFF", "x-thin", 9),
    "LV": ("#800080", "asterisk", 10), "LT": ("#800000", "circle", 11),
    "HU": ("#008080", "cross-thin", 11), "MT": ("#0000FF", "line-ew", 10),
    "PL": ("#00CCFF", "line-ew", 12), "RO": ("#CCFFFF", "x-thin", 9),
    "SI": ("#CCFFCC", "circle", 12), "SK": ("#FFFF99", "triangle-up", 12),
}
STROKE = {"x-thin", "asterisk", "cross-thin", "line-ew"}

fig = go.Figure()

# subplot boxes in page pixels: (left, right, top, bottom)
BOX = {
    1: (385, 998, 1189, 1667),
    2: (1178, 1818, 1187, 1665),
    3: (376, 1014, 1850, 2339),
    4: (1188, 1812, 1834, 2338),
}
CHARTS = [
    (1, EU15, M15, "legend", True),
    (2, EU15, F15, "legend", False),
    (3, EU12, M12, "legend2", True),
    (4, EU12, F12, "legend2", False),
]

for n, names, series, leg, showleg in CHARTS:
    xa = "x" if n == 1 else f"x{n}"
    ya = "y" if n == 1 else f"y{n}"
    for name, vals in zip(names, series):
        col, sym, size = STYLE[name]
        lw = 2.2 if sym in STROKE else 0
        fig.add_trace(go.Scatter(
            x=AGES, y=vals, name=name, mode="lines+markers",
            xaxis=xa, yaxis=ya, legend=leg, showlegend=showleg,
            legendgroup=f"{n}{name}",
            line=dict(color=col, width=2.2),
            marker=dict(symbol=sym, size=size, color=col,
                        line=dict(color=col, width=lw)),
        ))

Y_TICKS_15 = [0, 10, 20, 30, 40, 50, 60, 70]
Y_TEXT_M15 = ["0%", "10 %", "20 %", "30 %", "40 %", "50 %", "60 %", "70 %"]
Y_TEXT_F15 = ["0%", "10%", "20%", "30%", "40%", "50%", "60%", "70%"]
Y_TICKS_12 = [0, 5, 10, 15, 20, 25, 30, 35, 40, 45]
Y_TEXT_M12 = ["0%", "5%", "10%", "15%", "20%", "25%", "30%", "35%", "40%", "45%"]
Y_TEXT_F12 = ["0%", "5%", "10 %", "15 %", "20 %", "25 %", "30 %", "35 %", "40 %", "45 %"]
YSPEC = {1: (70, Y_TICKS_15, Y_TEXT_M15), 2: (70, Y_TICKS_15, Y_TEXT_F15),
         3: (45, Y_TICKS_12, Y_TEXT_M12), 4: (45, Y_TICKS_12, Y_TEXT_F12)}

layout_axes = {}
for n, (l, r, t, b) in BOX.items():
    xk = "xaxis" if n == 1 else f"xaxis{n}"
    yk = "yaxis" if n == 1 else f"yaxis{n}"
    ymax, yt, ytt = YSPEC[n]
    layout_axes[xk] = dict(
        domain=[fx(l), fx(r)], range=[-0.5, 100.5], anchor="y" if n == 1 else f"y{n}",
        tickmode="array", tickvals=X_TICKS, ticktext=X_TICKTEXT, tickangle=-90,
        ticks="outside", ticklen=8, tickwidth=1.6, tickcolor="black",
        showline=True, linecolor="black", linewidth=2, showgrid=False, zeroline=False,
        tickfont=dict(family=SANS, size=22, color="black"), ticklabelstandoff=3,
    )
    layout_axes[yk] = dict(
        domain=[fy(b), fy(t)], range=[0, ymax], anchor="x" if n == 1 else f"x{n}",
        tickmode="array", tickvals=yt, ticktext=ytt,
        ticks="outside", ticklen=8, tickwidth=1.6, tickcolor="black",
        showline=True, linecolor="black", linewidth=2,
        showgrid=True, gridcolor="black", gridwidth=2, zeroline=False,
        tickfont=dict(family=NARROW, size=19, color="black"), ticklabelstandoff=7,
    )

# ---------------------------------------------------------------- text helpers
ANN = []


def ann(X, Y, text, size, family=SERIF, color="black", xanchor="left", yanchor="middle", angle=0):
    ANN.append(dict(x=fx(X), y=fy(Y), xref="paper", yref="paper", text=text,
                    showarrow=False, xanchor=xanchor, yanchor=yanchor,
                    textangle=angle, borderpad=0, borderwidth=0,
                    font=dict(family=family, size=size, color=color)))


TR = {" ": 250, '"': 408, "%": 833, "(": 333, ")": 333, ",": 250, "-": 333, ".": 250, "/": 278,
      "A": 722, "C": 667, "D": 722, "E": 611, "G": 722, "P": 556, "S": 556, "T": 611, "U": 722,
      "a": 444, "b": 500, "c": 444, "d": 500, "e": 444, "f": 333, "g": 500, "h": 500, "i": 278,
      "j": 278, "k": 500, "l": 278, "m": 778, "n": 500, "o": 500, "p": 500, "q": 500, "r": 333,
      "s": 389, "t": 278, "u": 500, "v": 500, "w": 722, "x": 500, "y": 500, "z": 444}
TI = {"-": 333, "a": 500, "c": 444, "d": 500, "e": 444, "f": 278, "g": 500, "i": 278, "l": 278,
      "n": 500, "o": 500, "p": 500, "r": 389, "s": 389, "t": 278, "u": 500, "x": 444}
FS = 41


def parse(line):
    chars, it, bl = [], False, False
    for ch in line:
        if ch == "_":
            it = not it
            continue
        if ch in "[]":
            bl = ch == "["
            continue
        chars.append((ch, it, bl))
    words, cur = [], []
    for c in chars:
        if c[0] == " ":
            if cur:
                words.append(cur)
                cur = []
        else:
            cur.append(c)
    if cur:
        words.append(cur)
    return words


def word_html(w):
    out, i = "", 0
    while i < len(w):
        j = i
        while j < len(w) and w[j][1:] == w[i][1:]:
            j += 1
        seg = "".join(c[0] for c in w[i:j])
        if w[i][1]:
            seg = "<i>" + seg + "</i>"
        if w[i][2]:
            seg = f'<span style="color:{LINK}">' + seg + "</span>"
        out += seg
        i = j
    return out


def width(w):
    return sum((TI if c[1] else TR).get(c[0], 500) for c in w) * FS / 1000 * SX


def paragraph(lines, x0, x1, y0, pitch, last_left=True):
    for k, line in enumerate(lines):
        words = parse(line)
        ws = [width(w) for w in words]
        y = y0 + k * pitch
        if (k == len(lines) - 1 and last_left) or len(words) == 1:
            gap = 0.25 * FS * SX
        else:
            gap = (x1 - x0 - sum(ws)) / (len(words) - 1)
        x = x0
        for w, wd in zip(words, ws):
            ann(x, y, word_html(w), FS)
            x += wd + gap


LEFT_P1 = ["need of care. This depends not only on the",
           "size but also on the health status of the",
           "population. The latest one is linked to the",
           "age- and gender-structure of the population,",
           "notably to the share of elderly people in the",
           "overall population. This is because older",
           "people often develop multi-morbidity",
           "conditions, which require costly medical",
           "care."]
LEFT_P2 = ["The relationship between the age of an",
           "individual and his/her demand for health care",
           'is well displayed by the so-called "_age-_',
           '_related expenditure profiles_" shown in [Graph]',
           "[3. 1]. The graph plots average public spending"]
RIGHT_P = ["on health care per capita (as % of GDP per",
           "capita) against the age of individuals in each",
           "country of the EU. Spending generally",
           "increases with the age of a person, notably",
           "from the ages of 55 and more for men and 60",
           "and more for women, coinciding naturally",
           "with higher morbidity at older age. The",
           "demand for health care is also high at very",
           "young ages and during maternity years for",
           "women. Consequently, the population",
           "structure, and ageing in particular, is often",
           "seen as one of the main drivers of increasing",
           "health care expenditures."]

paragraph(LEFT_P1, 242, 1000, 270, 47.4)
paragraph(LEFT_P2, 242, 1000, 739, 47.4, last_left=False)
paragraph(RIGHT_P, 1049, 1806, 270, 47.4)

# title band
ann(1023, 1033, "<b>Graph 3. 1 - Age-related expenditure profiles of health care provision</b>", 41,
    color=NAVY, xanchor="center")
ann(1023, 1080, "<b>(spending per capita as % of GDP per capita)</b>", 41, color=NAVY, xanchor="center")
# source band
ann(242, 2510, "<b><i>Source:</i></b> Commission services, EPC", 41, color=NAVY)
# page number
ann(1805, 2750, "160", 41, xanchor="right")

# chart titles / axis titles
ann(704, 1150, "<b>EU15 (+NO) - males</b>", 21, family=NARROW, xanchor="center")
ann(1515, 1147, "<b>EU15 (+NO) - females</b>", 21, family=NARROW, xanchor="center")
ann(680, 1810, "<b>EU12 - males</b>", 21, family=NARROW, xanchor="center")
ann(1486, 1797, "<b>EU12 - females</b>", 21, family=NARROW, xanchor="center")
for X, Y in [(692, 1742), (1498, 1738), (696, 2417), (1500, 2404)]:
    ann(X, Y, "Age by year", 21, family=NARROW, xanchor="center")
for X1, X2, Y in [(281, 304, 1443), (274, 297, 2110)]:
    ann(X1, Y, "Per capita spending by single age as % of GDP", 23, family=SANS,
        xanchor="center", angle=-90)
    ann(X2, Y, "per capita", 23, family=SANS, xanchor="center", angle=-90)

# ---------------------------------------------------------------- bands
SHAPES = []
for top, bot in [(1002, 1105), (2481, 2536)]:
    SHAPES.append(dict(type="rect", xref="paper", yref="paper", x0=fx(238), x1=fx(1807),
                       y0=fy(bot), y1=fy(top), fillcolor="#E7E7E9", line=dict(width=0), layer="below"))
    SHAPES.append(dict(type="line", xref="paper", yref="paper", x0=fx(238), x1=fx(1807),
                       y0=fy(top), y1=fy(top), line=dict(color="#3A3A3A", width=2)))
    SHAPES.append(dict(type="line", xref="paper", yref="paper", x0=fx(238), x1=fx(1807),
                       y0=fy(bot), y1=fy(bot), line=dict(color="#5A5A5A", width=3)))

LEG = dict(xanchor="left", yanchor="top", bgcolor="rgba(0,0,0,0)", borderwidth=0,
           font=dict(family=NARROW, size=17, color="black"), tracegroupgap=11.1,
           traceorder="grouped", itemwidth=30)

fig.update_layout(
    width=W, height=H, autosize=False,
    margin=dict(l=0, r=0, t=0, b=0, pad=0),
    paper_bgcolor="white", plot_bgcolor="white",
    showlegend=True,
    legend=dict(x=fx(1026), y=fy(1164), **LEG),
    legend2=dict(x=fx(1042), y=fy(1904), **LEG),
    annotations=ANN, shapes=SHAPES,
    **layout_axes,
)

fig.write_html("out.html")
